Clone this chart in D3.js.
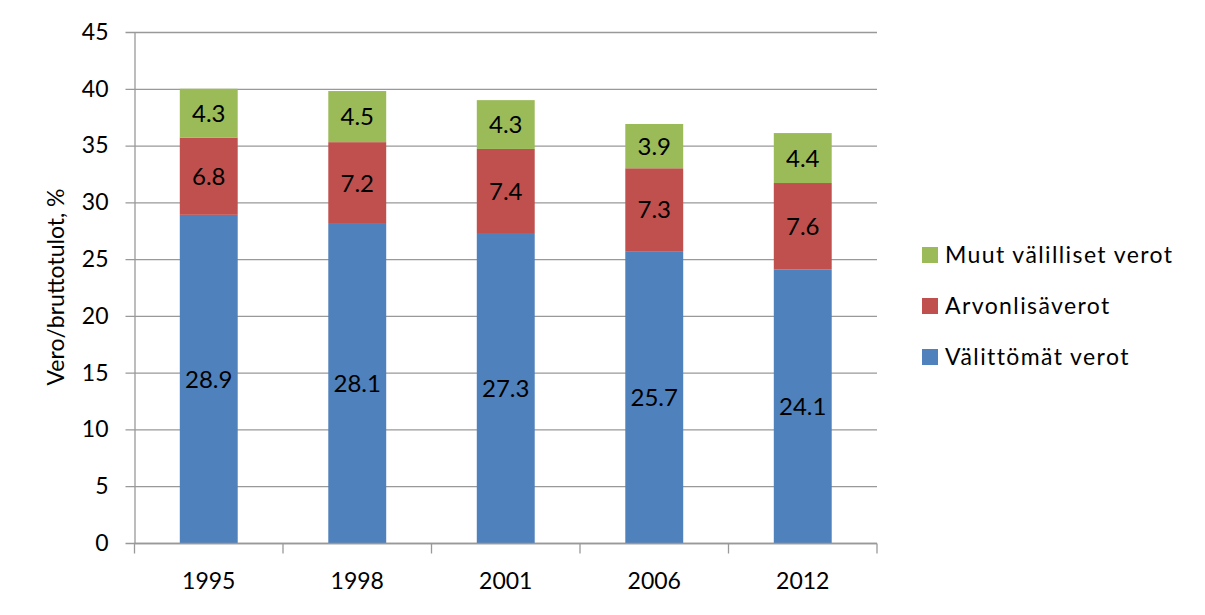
<!DOCTYPE html>
<html><head><meta charset="utf-8">
<script src="https://cdn.jsdelivr.net/npm/d3@7"></script>
<style>body{margin:0;background:#fff}svg{display:block}text{font-family:Lato,"Open Sans",sans-serif;fill:#000}</style>
</head><body>
<svg id="c" width="1205" height="615"></svg>
<script>
const years = ["1995","1998","2001","2006","2012"];
const direct = [28.9, 28.1, 27.3, 25.7, 24.1];
const vat = [6.8, 7.2, 7.4, 7.3, 7.6];
const otherIndirect = [4.3, 4.5, 4.3, 3.9, 4.4];
const seriesNames = ["Välittömät verot", "Arvonlisäverot", "Muut välilliset verot"];
const colors = ["#4F81BD", "#C0504D", "#9BBB59"];
const yTicks = [0,5,10,15,20,25,30,35,40,45];

const svg = d3.select("#c");
const L = 134.5, R = 877, T = 32, B = 543;
const x = d3.scaleBand().domain(years).range([L, R]).paddingInner(0.61).paddingOuter(0.305);
const y = d3.scaleLinear().domain([0,45]).range([B, T]);

// gridlines
svg.append("g").selectAll("line").data(yTicks).join("line")
  .attr("x1", L-9).attr("x2", R).attr("y1", d=>y(d)+0.5).attr("y2", d=>y(d)+0.5)
  .attr("stroke", "#999").attr("stroke-width", 1.3);

const rows = years.map((yr,i)=>({year:yr, direct:direct[i], vat:vat[i], other:otherIndirect[i]}));
const keys = ["direct","vat","other"];
const stack = d3.stack().keys(keys)(rows);

const g = svg.append("g");
stack.forEach((s,si)=>{
  g.selectAll(null).data(s).join("rect")
    .attr("x", d=>x(d.data.year)).attr("width", x.bandwidth())
    .attr("y", d=>y(d[1])).attr("height", d=>y(d[0])-y(d[1]))
    .attr("fill", colors[si]);
});
stack.forEach((s,si)=>{
  g.selectAll(null).data(s).join("text")
    .attr("x", d=>x(d.data.year)+x.bandwidth()/2)
    .attr("y", d=>y((d[0]+d[1])/2))
    .attr("dy","0.36em").attr("text-anchor","middle")
    .style("font-size","24px")
    .text(d=>(d[1]-d[0]).toFixed(1));
});

// y axis
const yAxis = d3.axisLeft(y).tickValues(yTicks).tickSize(0).tickPadding(26);
const ya = svg.append("g").attr("transform",`translate(${L},0)`).call(yAxis);
ya.select(".domain").attr("stroke","#999").attr("stroke-width",1.3).attr("d",`M0.5,${T}V${B+0.5}`);
ya.selectAll("text").style("font-size","23px").style("font-family","Lato");

// x axis
const xa = svg.append("g").attr("transform",`translate(0,${B+0.5})`);
xa.append("line").attr("x1",L).attr("x2",R).attr("stroke","#999").attr("stroke-width",1.3);
const bounds = years.map(yr=>x(yr)-x.step()*x.paddingInner()/2).concat([R]);
xa.selectAll(null).data(bounds).join("line")
  .attr("x1",d=>d).attr("x2",d=>d).attr("y1",0).attr("y2",10)
  .attr("stroke","#999").attr("stroke-width",1.3);
xa.selectAll(null).data(years).join("text")
  .attr("x", d=>x(d)+x.bandwidth()/2).attr("y", 45)
  .attr("text-anchor","middle").style("font-size","23px").text(d=>d);

// y title
svg.append("text").attr("transform",`translate(64,287) rotate(-90)`)
  .attr("text-anchor","middle").style("font-size","23px").text("Vero/bruttotulot, %");

// legend
const legendOrder = [2,1,0];
const ly = [255, 306, 357];
const lg = svg.append("g");
legendOrder.forEach((si,k)=>{
  lg.append("rect").attr("x",922).attr("y",ly[k]-8).attr("width",16).attr("height",16).attr("fill",colors[si]);
  lg.append("text").attr("x",945).attr("y",ly[k]).attr("dy","0.36em").style("font-size","23px")
    .style("letter-spacing","1.4px").text(seriesNames[si]);
});
</script>
</body></html>
